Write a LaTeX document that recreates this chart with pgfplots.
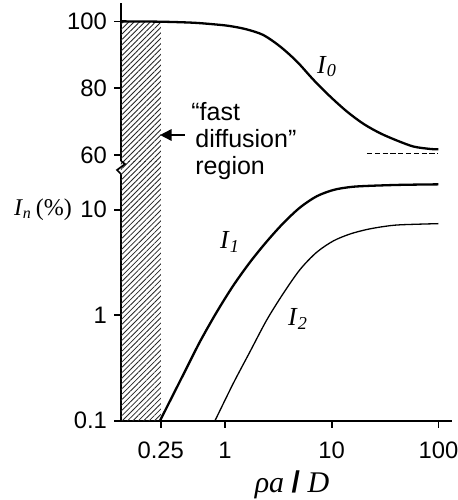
\documentclass[border=0pt]{standalone}
\usepackage{fontspec}
\setmainfont{Liberation Serif}
\newfontfamily\arial{Liberation Sans}
\usepackage{pgfplots}
\pgfplotsset{compat=1.18}
\usetikzlibrary{patterns.meta,arrows.meta}

\begin{document}
\begin{tikzpicture}
\useasboundingbox (0,0) rectangle (229pt,250pt);

% lower (log) panel
\begin{axis}[scale only axis, width=165.5pt, height=123.35pt,
  at={(60.5pt,39.65pt)}, anchor=south west,
  xmode=log, xmin=0.106, xmax=134.1,
  ymode=log, ymin=0.1, ymax=21.8,
  axis x line=bottom, axis y line=left,
  axis line style={line width=0.85pt,-},
  tick align=outside, major tick length=3.5pt,
  tick style={line width=0.85pt,black},
  xminorticks=false, yminorticks=false,
  xtick={0.25,1,10,100}, xticklabels={0.25,1,10,100},
  ytick={0.1,1,10}, yticklabels={0.1,1,10},
  tick label style={font=\fontsize{11.9}{13}\selectfont\arial},
  xticklabel style={yshift=-3.5pt},
  clip=false]
\addplot[draw=none, pattern={Lines[angle=45,distance=1.9pt,line width=0.42pt]}, pattern color=black!85]
  coordinates {(0.106,0.1) (0.25,0.1) (0.25,28.9) (0.106,28.9) (0.106,0.1)};
% I1
\addplot[black, line width=1.15pt, smooth] coordinates {
(0.246,0.1) (0.407,0.274) (0.583,0.562) (0.836,1.07) (1.196,1.91) (1.715,3.18)
(2.46,4.99) (3.52,7.46) (5.05,10.5) (7.23,13.4) (10.4,15.4) (14.9,16.4)
(21.3,16.8) (43.6,17.2) (100,17.4)};
% I2
\addplot[black, line width=0.65pt, smooth] coordinates {
(0.806,0.1) (1.196,0.226) (1.715,0.451) (2.46,0.90) (3.52,1.61) (5.05,2.71)
(7.23,3.95) (10.4,5.07) (14.9,5.89) (21.3,6.49) (30.5,6.92) (43.6,7.19) (100,7.38)};
\end{axis}

% upper (linear) panel
\begin{axis}[scale only axis, width=165.5pt, height=79pt,
  at={(60.5pt,169.5pt)}, anchor=south west,
  xmode=log, xmin=0.106, xmax=134.1,
  ymin=58.2, ymax=105.5,
  axis x line=none, axis y line=left, xtick=\empty,
  axis line style={line width=0.85pt,-},
  tick align=outside, major tick length=3.5pt,
  tick style={line width=0.85pt,black},
  xminorticks=false,
  ytick={60,80,100}, yticklabels={60,80,100},
  tick label style={font=\fontsize{11.9}{13}\selectfont\arial}]
\addplot[draw=none, pattern={Lines[angle=45,distance=1.9pt,line width=0.42pt]}, pattern color=black!85]
  coordinates {(0.106,58.2) (0.25,58.2) (0.25,100) (0.106,100) (0.106,58.2)};
% I0
\addplot[black, line width=1.15pt, smooth] coordinates {
(0.106,100) (0.25,99.9) (0.5,99.6) (0.8,99.1) (1.114,98.6) (1.598,97.6)
(2.29,95.9) (3.28,92.5) (4.71,88.0) (6.75,82.5) (9.68,77.5) (13.9,73.0)
(19.9,69.3) (28.5,66.5) (41.1,64.3) (58.9,62.5) (84.4,61.8) (100,61.7)};
% asymptote
\addplot[black, line width=0.75pt, dash pattern=on 2.6pt off 1.3pt] coordinates {(21.4,60.5) (100,60.5)};
\end{axis}

% axis break
\draw[line width=0.85pt, line join=miter] (60.5pt,169.5pt) -- (62.5pt,168pt) -- (58.5pt,165pt) -- (60.5pt,163pt);

% annotations
\node[anchor=base west, font=\fontsize{12.5}{14}\selectfont\arial, inner sep=0pt] at (95.5pt,190pt) {“fast};
\node[anchor=base west, font=\fontsize{12.5}{14}\selectfont\arial, inner sep=0pt] at (97.5pt,176.5pt) {diffusion”};
\node[anchor=base west, font=\fontsize{12.5}{14}\selectfont\arial, inner sep=0pt] at (97.5pt,163pt) {region};
\draw[line width=1pt, -{Triangle[length=5.8pt,width=5.7pt]}] (92.5pt,182.5pt) -- (80pt,182.5pt);

\node[font=\fontsize{13}{15}\selectfont] at (163.5pt,216.75pt) {\textit{I}\textsubscript{\textit{0}}};
\node[font=\fontsize{13}{15}\selectfont] at (115pt,129pt) {\textit{I}\textsubscript{\textit{1}}};
\node[font=\fontsize{13}{15}\selectfont] at (149pt,90.5pt) {\textit{I}\textsubscript{\textit{2}}};

\node[anchor=base, font=\fontsize{12}{14}\selectfont] at (21.5pt,142.5pt) {\textit{I}\textsubscript{\textit{n}}\,(\%)};
\node[anchor=base, font=\fontsize{15}{17}\selectfont] at (146pt,4pt) {\textit{ρa} {\arial\bfseries /} \textit{D}};
\end{tikzpicture}
\end{document}
